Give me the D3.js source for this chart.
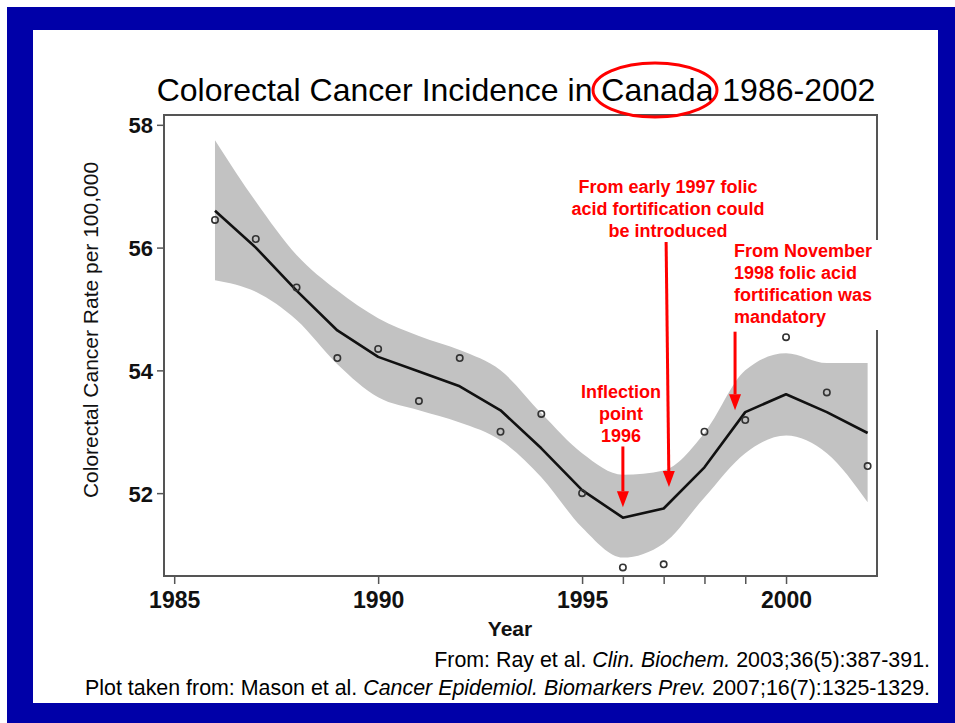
<!DOCTYPE html>
<html>
<head>
<meta charset="utf-8">
<script src="https://cdn.jsdelivr.net/npm/d3@7"></script>
<style>
  body { margin: 0; background: #fff; }
  svg { display: block; font-family: Arial, "Liberation Sans", sans-serif; }
</style>
</head>
<body>
<svg id="chart" width="955" height="723"></svg>
<script>
// values
const years = [1986, 1987, 1988, 1989, 1990, 1991, 1992, 1993, 1994, 1995, 1996, 1997, 1998, 1999, 2000, 2001, 2002]
const rates = [56.45, 56.14, 55.35, 54.2, 54.35, 53.5, 54.2, 53.0, 53.29, 52.0, 50.79, 50.84, 53.0, 53.19, 54.54, 53.64, 52.44]
const fit   = [56.6, 56.0, 55.3, 54.65, 54.22, 53.98, 53.74, 53.35, 52.73, 52.05, 51.6, 51.75, 52.42, 53.32, 53.61, 53.32, 52.98]
const upper = [57.75, 56.75, 55.88, 55.3, 54.85, 54.56, 54.33, 54.0, 53.3, 52.65, 52.3, 52.37, 52.98, 54.0, 54.28, 54.12, 54.12]
const lower = [55.47, 55.28, 54.82, 54.1, 53.56, 53.35, 53.15, 52.86, 52.26, 51.44, 50.95, 51.18, 51.93, 52.65, 52.94, 52.65, 51.85]

const xTicks = [1985, 1990, 1995, 1996, 1997, 1998, 1999, 2000]
const xLabels = [1985, 1990, 1995, 2000]
const yTicks = [52, 54, 56, 58]

const title = 'Colorectal Cancer Incidence in Canada 1986-2002'
const notes = [
  {lines: ['Inflection', 'point', '1996'], x: 621, y: 398, anchor: 'middle'},
  {lines: ['From early 1997 folic', 'acid fortification could', 'be introduced'], x: 668, y: 193, anchor: 'middle'},
  {lines: ['From November', '1998 folic acid', 'fortification was', 'mandatory'], x: 734, y: 257, anchor: 'start'}
]
// arrows in data units: [year, value] from -> to
const arrows = [
  [[1996, 52.76], [1996, 51.77]],
  [[1997.06, 56.09], [1997.13, 52.1]],
  [[1998.75, 54.63], [1998.75, 53.35]]
]

const svg = d3.select('#chart')
const W = +svg.attr('width'), H = +svg.attr('height')
const plot = {left: 164, right: 877, top: 115, bottom: 576}

// slide frame
svg.append('rect').attr('x', 7).attr('y', 7).attr('width', W - 7).attr('height', H - 7).attr('fill', '#0000a8')
svg.append('rect').attr('x', 33).attr('y', 30).attr('width', 905).attr('height', 673).attr('fill', '#fff')

const x = d3.scaleLinear().domain([1984.75, 2002.23]).range([plot.left, plot.right])
const y = d3.scaleLinear().domain([50.65, 58.16]).range([plot.bottom, plot.top])

const rows = years.map((yr, i) => ({yr, rate: rates[i], fit: fit[i], hi: upper[i], lo: lower[i]}))

// confidence band
svg.append('path')
  .datum(rows)
  .attr('fill', '#c2c2c2')
  .attr('d', d3.area().curve(d3.curveMonotoneX)
    .x(d => x(d.yr)).y0(d => y(d.lo)).y1(d => y(d.hi)))

// fitted line
svg.append('path')
  .datum(rows)
  .attr('fill', 'none')
  .attr('stroke', '#111')
  .attr('stroke-width', 2.6)
  .attr('stroke-linejoin', 'round')
  .attr('d', d3.line().x(d => x(d.yr)).y(d => y(d.fit)))

// observed points
svg.append('g').selectAll('circle')
  .data(rows)
  .join('circle')
  .attr('cx', d => x(d.yr))
  .attr('cy', d => y(d.rate))
  .attr('r', 3.2)
  .attr('fill', 'none')
  .attr('stroke', '#333')
  .attr('stroke-width', 1.6)

// axes
const xAxis = svg.append('g')
  .attr('transform', `translate(0,${plot.bottom})`)
  .call(d3.axisBottom(x).tickValues(xTicks).tickSize(8).tickPadding(8)
    .tickFormat(d => xLabels.includes(d) ? d : ''))
const yAxis = svg.append('g')
  .attr('transform', `translate(${plot.left},0)`)
  .call(d3.axisLeft(y).tickValues(yTicks).tickSize(7).tickPadding(4))

for (const g of [xAxis, yAxis]) {
  g.select('.domain').remove()
  g.selectAll('line').attr('stroke', '#555').attr('stroke-width', 1.5)
  g.selectAll('text').attr('fill', '#111').style('font-size', '22px').style('font-weight', 'bold')
    .style('font-family', 'Arial, "Liberation Sans", sans-serif')
}
xAxis.selectAll('text').attr('dy', '0.71em').style('font-size', '23px')
yAxis.selectAll('text').attr('dy', '0.36em')

// plot frame
svg.append('rect')
  .attr('x', plot.left).attr('y', plot.top)
  .attr('width', plot.right - plot.left).attr('height', plot.bottom - plot.top)
  .attr('fill', 'none').attr('stroke', '#555').attr('stroke-width', 2)

// axis titles
svg.append('text')
  .attr('x', 510).attr('y', 636)
  .attr('text-anchor', 'middle')
  .style('font-size', '21px').style('font-weight', 'bold').attr('fill', '#111')
  .text('Year')
svg.append('text')
  .attr('transform', 'translate(98,330) rotate(-90)')
  .attr('text-anchor', 'middle')
  .style('font-size', '21px').attr('fill', '#111')
  .text('Colorectal Cancer Rate per 100,000')

// title + ring round "Canada"
svg.append('text')
  .attr('x', 516).attr('y', 101)
  .attr('text-anchor', 'middle')
  .style('font-size', '32px').attr('fill', '#000')
  .text(title)
svg.append('ellipse')
  .attr('cx', 655).attr('cy', 90).attr('rx', 62).attr('ry', 27)
  .attr('fill', 'none').attr('stroke', '#f00').attr('stroke-width', 3)

// white box behind the right note (it hides the frame there)
svg.append('rect').attr('x', 731).attr('y', 240).attr('width', 150).attr('height', 90).attr('fill', '#fff')

// notes
notes.forEach(n => {
  const t = svg.append('text')
    .attr('x', n.x).attr('y', n.y)
    .attr('text-anchor', n.anchor)
    .style('font-size', '18px').style('font-weight', 'bold').attr('fill', '#f00')
  n.lines.forEach((l, i) => t.append('tspan').attr('x', n.x).attr('dy', i ? 22 : 0).text(l))
})

// red arrows
arrows.forEach(([a, b]) => {
  const x0 = x(a[0]), y0 = y(a[1]), x1 = x(b[0]), y1 = y(b[1])
  const ang = Math.atan2(y1 - y0, x1 - x0)
  const len = 16, half = 6
  const bx = x1 - len * Math.cos(ang), by = y1 - len * Math.sin(ang)
  svg.append('line')
    .attr('x1', x0).attr('y1', y0).attr('x2', bx).attr('y2', by)
    .attr('stroke', '#f00').attr('stroke-width', 3)
  svg.append('path')
    .attr('fill', '#f00')
    .attr('d', `M${x1},${y1}L${bx + half * Math.sin(ang)},${by - half * Math.cos(ang)}L${bx - half * Math.sin(ang)},${by + half * Math.cos(ang)}Z`)
})

// sources
const src1 = svg.append('text').attr('x', 930).attr('y', 667).attr('text-anchor', 'end')
  .style('font-size', '21.4px').attr('fill', '#000')
src1.append('tspan').text('From: Ray et al. ')
src1.append('tspan').style('font-style', 'italic').text('Clin. Biochem.')
src1.append('tspan').text(' 2003;36(5):387-391.')

const src2 = svg.append('text').attr('x', 930).attr('y', 695).attr('text-anchor', 'end')
  .style('font-size', '21.4px').attr('fill', '#000')
src2.append('tspan').text('Plot taken from: Mason et al. ')
src2.append('tspan').style('font-style', 'italic').text('Cancer Epidemiol. Biomarkers Prev.')
src2.append('tspan').text(' 2007;16(7):1325-1329.')
</script>
</body>
</html>
